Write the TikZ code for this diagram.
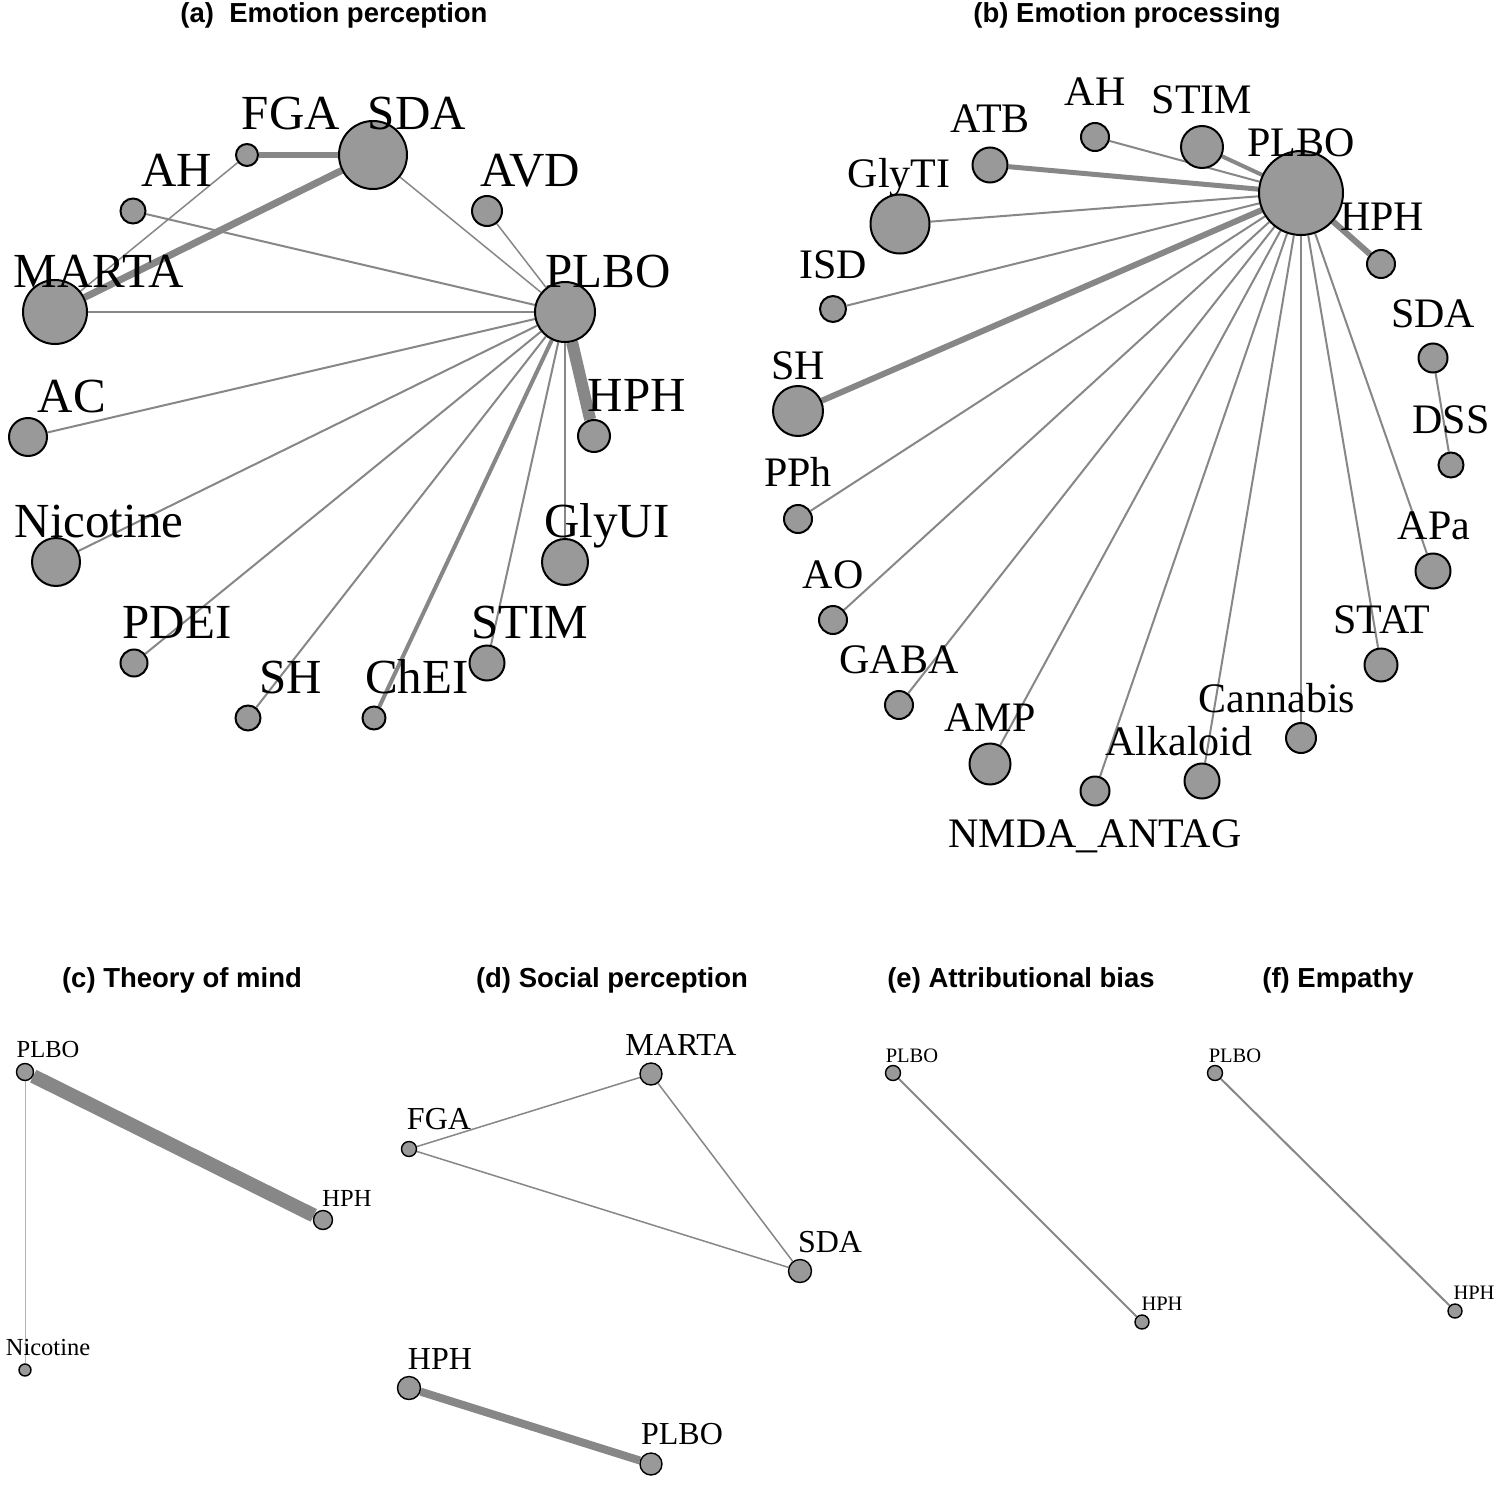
\documentclass[tikz,border=0pt]{standalone}
\usepackage{fontspec}
\setmainfont{Liberation Serif}
\newfontfamily\panelhead{Liberation Sans}

\pgfdeclarelayer{edges}
\pgfsetlayers{edges,main}

\definecolor{vfill}{gray}{0.6}
\definecolor{ecol}{gray}{0.53}

\tikzset{
  vtx/.style={circle, draw=black, line width=2pt, fill=vfill, inner sep=0pt, minimum size=#1},
  svtx/.style={vtx=#1, line width=1.4pt},
  lnk/.style={draw=ecol, line width=#1},
  head/.style={font=\panelhead\bfseries\fontsize{27.5}{28}\selectfont, anchor=base, inner sep=0pt},
  labA/.style={font=\fontsize{49}{49}\selectfont, anchor=base, inner sep=0pt},
  labB/.style={font=\fontsize{42}{42}\selectfont, anchor=base, inner sep=0pt},
  labC/.style={font=\fontsize{24.5}{25}\selectfont, anchor=base, inner sep=0pt},
  labD/.style={font=\fontsize{32}{32}\selectfont, anchor=base, inner sep=0pt},
  labE/.style={font=\fontsize{20.5}{21}\selectfont, anchor=base, inner sep=0pt},
}

\begin{document}
\begin{tikzpicture}[x=1pt, y=-1pt]
\useasboundingbox (0,0) rectangle (1500,1485);

% ---------- panel titles ----------
\node[head] (tA) at (334,23) {(a)\ \ Emotion perception};
\node[head] (tB) at (1127,23) {(b) Emotion processing};
\node[head] (tC) at (182,987) {(c) Theory of mind};
\node[head] (tD) at (612,987) {(d) Social perception};
\node[head] (tE) at (1021,987) {(e) Attributional bias};
\node[head] (tF) at (1338,987) {(f) Empathy};

% ---------- (a) emotion perception ----------
\node[vtx=22pt] (aFGA)   at (247,155) {};
\node[vtx=68pt] (aSDA)   at (373,155) {};
\node[vtx=25pt] (aAH)    at (133,211) {};
\node[vtx=30pt] (aAVD)   at (487,211) {};
\node[vtx=64pt] (aMARTA) at (55,312) {};
\node[vtx=60pt] (aPLBO)  at (565,312) {};
\node[vtx=38pt] (aAC)    at (28,437) {};
\node[vtx=32pt] (aHPH)   at (594,436) {};
\node[vtx=48pt] (aNIC)   at (56,562) {};
\node[vtx=46pt] (aGLY)   at (565,562) {};
\node[vtx=27pt] (aPDEI)  at (134,663) {};
\node[vtx=35pt] (aSTIM)  at (487,663) {};
\node[vtx=25pt] (aSH)    at (248,718) {};
\node[vtx=23pt] (aCHEI)  at (374,718) {};

\node[labA] (aFGAl)   at (291,130) {FGA};
\node[labA] (aSDAl)   at (417,130) {SDA};
\node[labA] (aAHl)    at (177,186) {AH};
\node[labA] (aAVDl)   at (530,186) {AVD};
\node[labA] (aMARTAl) at (99,287) {MARTA};
\node[labA] (aPLBOl)  at (608,287) {PLBO};
\node[labA] (aACl)    at (72,412) {AC};
\node[labA] (aHPHl)   at (637,411) {HPH};
\node[labA] (aNICl)   at (99,537) {Nicotine};
\node[labA] (aGLYl)   at (607,537) {GlyUI};
\node[labA] (aPDEIl)  at (177,638) {PDEI};
\node[labA] (aSTIMl)  at (530,638) {STIM};
\node[labA] (aSHl)    at (291,693) {SH};
\node[labA] (aCHEIl)  at (417,693) {ChEI};

% ---------- (b) emotion processing ----------
\node[vtx=28pt] (bAH)    at (1095,137) {};
\node[vtx=42pt] (bSTIM)  at (1202,147) {};
\node[vtx=84pt] (bPLBO)  at (1301,193) {};
\node[vtx=35pt] (bATB)   at (990,165) {};
\node[vtx=59pt] (bGLY)   at (900,224) {};
\node[vtx=28pt] (bHPH)   at (1381,264) {};
\node[vtx=26pt] (bISD)   at (833,309) {};
\node[vtx=29pt] (bSDA)   at (1433,358) {};
\node[vtx=50pt] (bSH)    at (798,411) {};
\node[vtx=25pt] (bDSS)   at (1451,465) {};
\node[vtx=28pt] (bPPH)   at (798,519) {};
\node[vtx=35pt] (bAPA)   at (1433,571) {};
\node[vtx=28pt] (bAO)    at (833,620) {};
\node[vtx=33pt] (bSTAT)  at (1381,665) {};
\node[vtx=28pt] (bGABA)  at (899,705) {};
\node[vtx=30pt] (bCAN)   at (1301,738) {};
\node[vtx=41pt] (bAMP)   at (990,764) {};
\node[vtx=29pt] (bNMDA)  at (1095,791) {};
\node[vtx=35pt] (bALK)   at (1202,781) {};

\node[labB] (bAHl)    at (1095,106) {AH};
\node[labB] (bSTIMl)  at (1202,114) {STIM};
\node[labB] (bPLBOl)  at (1301,157) {PLBO};
\node[labB] (bATBl)   at (990,133) {ATB};
\node[labB] (bGLYl)   at (899,188) {GlyTI};
\node[labB] (bHPHl)   at (1382,230) {HPH};
\node[labB] (bISDl)   at (833,278) {ISD};
\node[labB] (bSDAl)   at (1433,327) {SDA};
\node[labB] (bSHl)    at (798,379) {SH};
\node[labB] (bDSSl)   at (1451,433) {DSS};
\node[labB] (bPPHl)   at (798,486) {PPh};
\node[labB] (bAPAl)   at (1434,539) {APa};
\node[labB] (bAOl)    at (833,588) {AO};
\node[labB] (bSTATl)  at (1382,633) {STAT};
\node[labB] (bGABAl)  at (899,673) {GABA};
\node[labB] (bCANl)   at (1277,712) {Cannabis};
\node[labB] (bAMPl)   at (990,731) {AMP};
\node[labB] (bALKl)   at (1179,755) {Alkaloid};
\node[labB] (bNMDAl)  at (1095,847) {NMDA\_ANTAG};

% ---------- (c) theory of mind ----------
\node[svtx=17pt] (cPLBO) at (25,1072) {};
\node[svtx=19pt] (cHPH)  at (323,1220) {};
\node[svtx=12pt] (cNIC)  at (25,1370) {};
\node[labC] (cPLBOl) at (48,1057) {PLBO};
\node[labC] (cHPHl)  at (347,1206) {HPH};
\node[labC] (cNICl)  at (48,1355) {Nicotine};

% ---------- (d) social perception ----------
\node[svtx=22pt] (dMARTA) at (651,1074) {};
\node[svtx=15pt] (dFGA)   at (409,1149) {};
\node[svtx=23pt] (dSDA)   at (800,1271) {};
\node[svtx=23pt] (dHPH)   at (409,1388) {};
\node[svtx=22pt] (dPLBO)  at (651,1464) {};
\node[labD] (dMARTAl) at (681,1055) {MARTA};
\node[labD] (dFGAl)   at (439,1129) {FGA};
\node[labD] (dSDAl)   at (830,1252) {SDA};
\node[labD] (dHPHl)   at (440,1369) {HPH};
\node[labD] (dPLBOl)  at (682,1444) {PLBO};

% ---------- (e) attributional bias ----------
\node[svtx=15pt] (ePLBO) at (893,1073) {};
\node[svtx=14pt] (eHPH)  at (1142,1322) {};
\node[labE] (ePLBOl) at (912,1062) {PLBO};
\node[labE] (eHPHl)  at (1162,1310) {HPH};

% ---------- (f) empathy ----------
\node[svtx=15pt] (fPLBO) at (1215,1073) {};
\node[svtx=14pt] (fHPH)  at (1455,1311) {};
\node[labE] (fPLBOl) at (1235,1062) {PLBO};
\node[labE] (fHPHl)  at (1474,1299) {HPH};

% ---------- connectors, kept beneath the vertices ----------
\begin{pgfonlayer}{edges}
\fill[white] (0,0) rectangle (1500,1485);
% (a)
\draw[lnk=6pt]   (aFGA) -- (aSDA);
\draw[lnk=7pt]   (aSDA) -- (aMARTA);
\draw[lnk=1.5pt] (aFGA) -- (aMARTA);
\draw[lnk=2pt]   (aAH) -- (aPLBO);
\draw[lnk=1.5pt] (aSDA) -- (aPLBO);
\draw[lnk=1.5pt] (aAVD) -- (aPLBO);
\draw[lnk=2.5pt] (aMARTA) -- (aPLBO);
\draw[lnk=12pt]  (aPLBO) -- (aHPH);
\draw[lnk=2pt]   (aPLBO) -- (aAC);
\draw[lnk=2pt]   (aPLBO) -- (aNIC);
\draw[lnk=2pt]   (aPLBO) -- (aPDEI);
\draw[lnk=2pt]   (aPLBO) -- (aSH);
\draw[lnk=4pt]   (aPLBO) -- (aCHEI);
\draw[lnk=2pt]   (aPLBO) -- (aSTIM);
\draw[lnk=1.5pt] (aPLBO) -- (aGLY);
% (b)
\draw[lnk=2pt] (bPLBO) -- (bAH);
\draw[lnk=4pt] (bPLBO) -- (bSTIM);
\draw[lnk=5pt] (bPLBO) -- (bATB);
\draw[lnk=2pt] (bPLBO) -- (bGLY);
\draw[lnk=6pt] (bPLBO) -- (bHPH);
\draw[lnk=2pt] (bPLBO) -- (bISD);
\draw[lnk=6pt] (bPLBO) -- (bSH);
\draw[lnk=2pt] (bPLBO) -- (bPPH);
\draw[lnk=2pt] (bPLBO) -- (bAO);
\draw[lnk=2pt] (bPLBO) -- (bGABA);
\draw[lnk=2pt] (bPLBO) -- (bAMP);
\draw[lnk=2pt] (bPLBO) -- (bNMDA);
\draw[lnk=2pt] (bPLBO) -- (bALK);
\draw[lnk=2pt] (bPLBO) -- (bCAN);
\draw[lnk=2pt] (bPLBO) -- (bSTAT);
\draw[lnk=2pt] (bPLBO) -- (bAPA);
\draw[lnk=2pt] (bSDA) -- (bDSS);
% (c)
\draw[lnk=14pt] (cPLBO) -- (cHPH);
\draw[lnk=1pt, draw=gray!60] (cPLBO) -- (cNIC);
% (d)
\draw[lnk=1.5pt] (dFGA) -- (dMARTA);
\draw[lnk=1.5pt] (dFGA) -- (dSDA);
\draw[lnk=1.5pt] (dMARTA) -- (dSDA);
\draw[lnk=8pt]   (dHPH) -- (dPLBO);
% (e), (f)
\draw[lnk=2pt] (ePLBO) -- (eHPH);
\draw[lnk=2pt] (fPLBO) -- (fHPH);
\end{pgfonlayer}
\end{tikzpicture}
\end{document}
